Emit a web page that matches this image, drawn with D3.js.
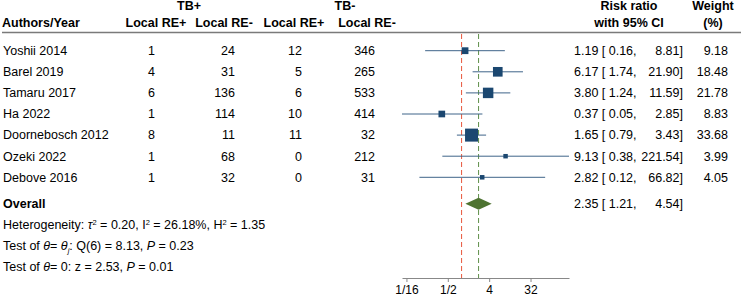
<!DOCTYPE html>
<html>
<head>
<meta charset="utf-8">
<script src="https://cdn.jsdelivr.net/npm/d3@7"></script>
<style>
body { margin: 0; background: #fff; }
text { font-family: "Liberation Sans", Arial, sans-serif; font-size: 12.5px; fill: #000; }
</style>
</head>
<body>
<svg id="chart" width="741" height="296"></svg>
<script>
// study data
const studies = ["Yoshii 2014", "Barel 2019", "Tamaru 2017", "Ha 2022", "Doornebosch 2012", "Ozeki 2022", "Debove 2016"];
const tbPosRePos = [1, 4, 6, 1, 8, 1, 1];
const tbPosReNeg = [24, 31, 136, 114, 11, 68, 32];
const tbNegRePos = [12, 5, 6, 10, 11, 0, 0];
const tbNegReNeg = [346, 265, 533, 414, 32, 212, 31];
const riskRatio = [1.19, 6.17, 3.80, 0.37, 1.65, 9.13, 2.82];
const ciLower = [0.16, 1.74, 1.24, 0.05, 0.79, 0.38, 0.12];
const ciUpper = [8.81, 21.90, 11.59, 2.85, 3.43, 221.54, 66.82];
const weights = [9.18, 18.48, 21.78, 8.83, 33.68, 3.99, 4.05];
const overallRR = 2.35, overallLower = 1.21, overallUpper = 4.54;
const tickValues = [1/16, 1/2, 4, 32];
const tickLabels = ["1/16", "1/2", "4", "32"];

const svg = d3.select("#chart");
const fmt = d3.format(".2f");

// scales
const x = d3.scaleLog().base(2)
    .domain([d3.min(ciLower), d3.max(ciUpper)])
    .range([402, 569]);
const y = d3.scaleLinear().domain([0, 1]).range([50.7, 71.8]);
const side = d3.scaleSqrt().domain([0, 33.68]).range([0, 13]);

const plotTop = 34, axisY = 278;

// headers
const header = svg.append("g");
const hdr = (txt, xx, yy, anchor) => header.append("text")
    .attr("x", xx).attr("y", yy).attr("dy", "0.35em")
    .attr("text-anchor", anchor).style("font-weight", "bold").text(txt);
hdr("TB+", 189, 6, "middle");
hdr("TB-", 345, 6, "middle");
hdr("Authors/Year", 2, 23, "start");
hdr("Local RE+", 156, 23, "middle");
hdr("Local RE-", 224, 23, "middle");
hdr("Local RE+", 294, 23, "middle");
hdr("Local RE-", 367, 23, "middle");
hdr("Risk ratio", 629, 6, "middle");
hdr("with 95% CI", 629, 23, "middle");
hdr("Weight", 713, 6, "middle");
hdr("(%)", 713, 23, "middle");

svg.append("line")
    .attr("x1", 2).attr("x2", 741)
    .attr("y1", 32.5).attr("y2", 32.5)
    .attr("stroke", "#7a7a7a").attr("stroke-width", 1.6);

// reference lines
svg.append("line")
    .attr("x1", x(1)).attr("x2", x(1))
    .attr("y1", plotTop).attr("y2", axisY)
    .attr("stroke", "#e8563c").attr("stroke-width", 1)
    .attr("stroke-dasharray", "5,3");
svg.append("line")
    .attr("x1", x(overallRR)).attr("x2", x(overallRR))
    .attr("y1", plotTop).attr("y2", axisY)
    .attr("stroke", "#5f8f4a").attr("stroke-width", 1)
    .attr("stroke-dasharray", "5,3");

// study rows
const rows = svg.append("g").selectAll("g")
    .data(studies)
    .join("g")
    .attr("transform", (d, i) => "translate(0," + y(i) + ")");

const cell = (sel, xx, anchor, f) => sel.append("text")
    .attr("x", xx).attr("dy", "0.35em")
    .attr("text-anchor", anchor).text(f);

cell(rows, 3, "start", d => d);
cell(rows, 155, "end", (d, i) => tbPosRePos[i]);
cell(rows, 235, "end", (d, i) => tbPosReNeg[i]);
cell(rows, 302, "end", (d, i) => tbNegRePos[i]);
cell(rows, 375, "end", (d, i) => tbNegReNeg[i]);
cell(rows, 574, "start", (d, i) => fmt(riskRatio[i]) + " [ " + fmt(ciLower[i]) + ",");
cell(rows, 683, "end", (d, i) => fmt(ciUpper[i]) + "]");
cell(rows, 728, "end", (d, i) => fmt(weights[i]));

rows.append("line")
    .attr("x1", (d, i) => x(ciLower[i]))
    .attr("x2", (d, i) => x(ciUpper[i]))
    .attr("stroke", "#3f6489").attr("stroke-width", 1);

rows.append("rect")
    .attr("x", (d, i) => x(riskRatio[i]) - side(weights[i]) / 2)
    .attr("y", (d, i) => -side(weights[i]) / 2)
    .attr("width", (d, i) => side(weights[i]))
    .attr("height", (d, i) => side(weights[i]))
    .attr("fill", "#1b4770");

// overall row
const yOverall = y(7.25);
svg.append("text")
    .attr("x", 3).attr("y", yOverall).attr("dy", "0.35em")
    .style("font-weight", "bold").text("Overall");
svg.append("path")
    .attr("d", "M" + x(overallLower) + "," + yOverall +
        "L" + x(overallRR) + "," + (yOverall - 6) +
        "L" + x(overallUpper) + "," + yOverall +
        "L" + x(overallRR) + "," + (yOverall + 6) + "Z")
    .attr("fill", "#4e7331");
svg.append("text")
    .attr("x", 574).attr("y", yOverall).attr("dy", "0.35em")
    .text(fmt(overallRR) + " [ " + fmt(overallLower) + ",");
svg.append("text")
    .attr("x", 683).attr("y", yOverall).attr("dy", "0.35em")
    .attr("text-anchor", "end").text(fmt(overallUpper) + "]");

// statistics text
const stat = (i) => svg.append("text")
    .attr("x", 3).attr("y", y(i)).attr("dy", "0.35em");
const sup = (t, s) => t.append("tspan").attr("dy", -4).style("font-size", "7.5px").text(s);
const down = (t, s) => t.append("tspan").attr("dy", 4).text(s);

const h = stat(8.25);
h.append("tspan").text("Heterogeneity:  ");
h.append("tspan").style("font-style", "italic").text("τ");
sup(h, "2");
down(h, " = 0.20, I");
sup(h, "2");
down(h, " = 26.18%, H");
sup(h, "2");
down(h, " = 1.35");

const q = stat(9.25);
q.append("tspan").text("Test of ");
q.append("tspan").style("font-style", "italic").text("θ");
q.append("tspan").text("= ");
q.append("tspan").style("font-style", "italic").text("θ");
q.append("tspan").attr("dy", 3).style("font-size", "7.5px").style("font-style", "italic").text("j");
q.append("tspan").attr("dy", -3).text(": Q(6) = 8.13, ");
q.append("tspan").style("font-style", "italic").text("P");
q.append("tspan").text(" = 0.23");

const z = stat(10.25);
z.append("tspan").text("Test of ");
z.append("tspan").style("font-style", "italic").text("θ");
z.append("tspan").text("= 0: z = 2.53, ");
z.append("tspan").style("font-style", "italic").text("P");
z.append("tspan").text(" = 0.01");

// axis
const axis = svg.append("g")
    .attr("transform", "translate(0," + axisY + ")")
    .call(d3.axisBottom(x)
        .tickValues(tickValues)
        .tickFormat((d, i) => tickLabels[i])
        .tickSize(4)
        .tickSizeOuter(0));
axis.select(".domain").attr("stroke", "#888");
axis.selectAll(".tick line").attr("stroke", "#888");
axis.selectAll(".tick text")
    .style("font-family", "\"Liberation Sans\", Arial, sans-serif")
    .style("font-size", "12px").attr("fill", "#000");
</script>
</body>
</html>
